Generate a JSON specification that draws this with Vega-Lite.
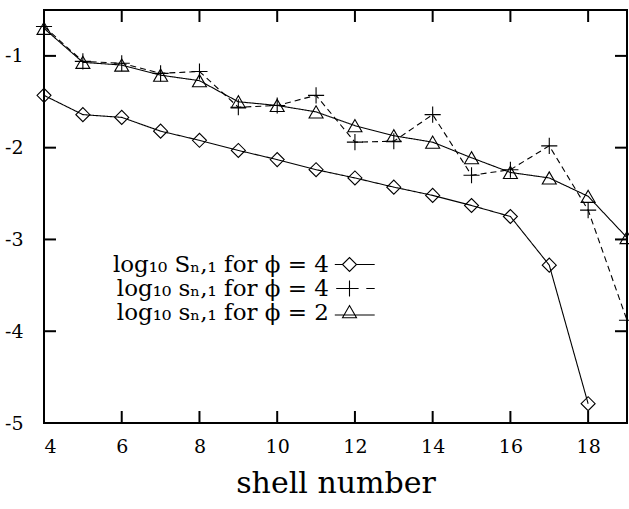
{
  "$schema": "https://vega.github.io/schema/vega-lite/v6.json",
  "width": 583,
  "height": 413,
  "autosize": {"type": "none"},
  "padding": {"left": 44, "top": 10, "right": 2, "bottom": 86},
  "background": "white",
  "config": {
    "view": {"stroke": "black", "strokeWidth": 2}
  },
  "datasets": {
    "pts": [
      {"n": 4, "v": -1.43, "s": "S4"}, {"n": 5, "v": -1.64, "s": "S4"}, {"n": 6, "v": -1.67, "s": "S4"},
      {"n": 7, "v": -1.82, "s": "S4"}, {"n": 8, "v": -1.92, "s": "S4"}, {"n": 9, "v": -2.03, "s": "S4"},
      {"n": 10, "v": -2.13, "s": "S4"}, {"n": 11, "v": -2.24, "s": "S4"}, {"n": 12, "v": -2.33, "s": "S4"},
      {"n": 13, "v": -2.43, "s": "S4"}, {"n": 14, "v": -2.52, "s": "S4"}, {"n": 15, "v": -2.63, "s": "S4"},
      {"n": 16, "v": -2.75, "s": "S4"}, {"n": 17, "v": -3.28, "s": "S4"}, {"n": 18, "v": -4.79, "s": "S4"},
      {"n": 4, "v": -0.68, "s": "s4"}, {"n": 5, "v": -1.06, "s": "s4"}, {"n": 6, "v": -1.08, "s": "s4"},
      {"n": 7, "v": -1.19, "s": "s4"}, {"n": 8, "v": -1.17, "s": "s4"}, {"n": 9, "v": -1.56, "s": "s4"},
      {"n": 10, "v": -1.54, "s": "s4"}, {"n": 11, "v": -1.43, "s": "s4"}, {"n": 12, "v": -1.94, "s": "s4"},
      {"n": 13, "v": -1.93, "s": "s4"}, {"n": 14, "v": -1.64, "s": "s4"}, {"n": 15, "v": -2.30, "s": "s4"},
      {"n": 16, "v": -2.24, "s": "s4"}, {"n": 17, "v": -1.98, "s": "s4"}, {"n": 18, "v": -2.68, "s": "s4"},
      {"n": 19, "v": -3.88, "s": "s4"},
      {"n": 4, "v": -0.70, "s": "s2"}, {"n": 5, "v": -1.07, "s": "s2"}, {"n": 6, "v": -1.10, "s": "s2"},
      {"n": 7, "v": -1.21, "s": "s2"}, {"n": 8, "v": -1.27, "s": "s2"}, {"n": 9, "v": -1.50, "s": "s2"},
      {"n": 10, "v": -1.54, "s": "s2"}, {"n": 11, "v": -1.61, "s": "s2"}, {"n": 12, "v": -1.76, "s": "s2"},
      {"n": 13, "v": -1.87, "s": "s2"}, {"n": 14, "v": -1.94, "s": "s2"}, {"n": 15, "v": -2.11, "s": "s2"},
      {"n": 16, "v": -2.27, "s": "s2"}, {"n": 17, "v": -2.33, "s": "s2"}, {"n": 18, "v": -2.53, "s": "s2"},
      {"n": 19, "v": -2.98, "s": "s2"}
    ],
    "xt": [{"t": 6}, {"t": 8}, {"t": 10}, {"t": 12}, {"t": 14}, {"t": 16}, {"t": 18}],
    "yt": [{"t": -4}, {"t": -3}, {"t": -2}, {"t": -1}]
  },
  "layer": [
    {
      "data": {"name": "pts"},
      "mark": {"type": "line", "color": "black", "strokeWidth": 1.1},
      "encoding": {
        "x": {"field": "n", "type": "quantitative", "scale": {"domain": [4, 19], "nice": false, "zero": false},
              "axis": {"orient": "bottom", "values": [4, 6, 8, 10, 12, 14, 16, 18], "grid": false, "domain": false, "ticks": false,
                       "labelFont": "DejaVu Serif", "labelFontSize": 19, "labelColor": "black", "labelPadding": 14,
                       "title": "shell number", "titleFont": "DejaVu Serif", "titleFontWeight": "normal", "titleColor": "black", "titleFontSize": 30, "titlePadding": 12}},
        "y": {"field": "v", "type": "quantitative", "scale": {"domain": [-5, -0.5], "nice": false, "zero": false},
              "axis": {"orient": "left", "values": [-5, -4, -3, -2, -1], "labelExpr": "'-' + abs(datum.value)", "grid": false, "domain": false, "ticks": false,
                       "labelFont": "DejaVu Serif", "labelFontSize": 19, "labelColor": "black", "labelPadding": 21, "title": null}},
        "strokeDash": {"field": "s", "type": "nominal", "scale": {"domain": ["S4", "s4", "s2"], "range": [[1, 0], [6, 4], [1, 0]]}, "legend": null},
        "detail": {"field": "s"}
      }
    },
    {
      "data": {"name": "pts"},
      "mark": {"type": "point", "filled": false, "stroke": "black", "strokeWidth": 1.1, "size": 196, "opacity": 1},
      "encoding": {
        "x": {"field": "n", "type": "quantitative"},
        "y": {"field": "v", "type": "quantitative"},
        "shape": {"field": "s", "type": "nominal",
                  "scale": {"domain": ["S4", "s4", "s2"], "range": ["diamond", "M-1.15,0L1.15,0M0,-1.15L0,1.15", "triangle-up"]},
                  "legend": null}
      }
    },
    {
      "data": {"name": "pts"},
      "transform": [{"filter": "datum.n > 100"}],
      "mark": {"type": "point", "filled": false, "stroke": "black", "strokeWidth": 1.1, "opacity": 1},
      "encoding": {
        "x": {"field": "n", "type": "quantitative"},
        "y": {"field": "v", "type": "quantitative"},
        "shape": {"field": "s", "type": "nominal",
                  "scale": {"domain": ["S4", "s4", "s2"],
                            "range": ["M-2.1,0L-1,0M1,0L3.6,0M-1,0L0,-1L1,0L0,1Z", "M-1.9,0L1.3,0M0,-1.15L0,1.15M2.4,0L3.6,0", "M-2.1,0.35L3.6,0.35M-1,0.75L0,-1L1,0.75Z"]},
                  "legend": {"orient": "none", "legendX": 294, "legendY": 243, "padding": 0, "title": null,
                             "labelAlign": "right", "labelOffset": -32, "labelLimit": 400, "labelFont": "DejaVu Serif", "labelFontSize": 23, "labelColor": "black",
                             "rowPadding": -1, "symbolSize": 196, "symbolStrokeWidth": 1.1, "symbolStrokeColor": "black", "symbolFillColor": "transparent", "symbolOpacity": 1,
                             "labelExpr": "datum.value === 'S4' ? 'log₁₀ Sₙ,₁ for ϕ = 4' : datum.value === 's4' ? 'log₁₀ sₙ,₁ for ϕ = 4' : 'log₁₀ sₙ,₁ for ϕ = 2'"}}
      }
    },
    {
      "data": {"name": "xt"},
      "mark": {"type": "point", "shape": "M0,0L0,-2", "filled": false, "stroke": "black", "strokeWidth": 2, "size": 144, "opacity": 1},
      "encoding": {"x": {"field": "t", "type": "quantitative"}, "y": {"datum": -5, "type": "quantitative"}}
    },
    {
      "data": {"name": "xt"},
      "mark": {"type": "point", "shape": "M0,0L0,2", "filled": false, "stroke": "black", "strokeWidth": 2, "size": 144, "opacity": 1},
      "encoding": {"x": {"field": "t", "type": "quantitative"}, "y": {"datum": -0.5, "type": "quantitative"}}
    },
    {
      "data": {"name": "yt"},
      "mark": {"type": "point", "shape": "M0,0L2,0", "filled": false, "stroke": "black", "strokeWidth": 2, "size": 144, "opacity": 1},
      "encoding": {"y": {"field": "t", "type": "quantitative"}, "x": {"datum": 4, "type": "quantitative"}}
    },
    {
      "data": {"name": "yt"},
      "mark": {"type": "point", "shape": "M0,0L-2,0", "filled": false, "stroke": "black", "strokeWidth": 2, "size": 144, "opacity": 1},
      "encoding": {"y": {"field": "t", "type": "quantitative"}, "x": {"datum": 19, "type": "quantitative"}}
    }
  ],
  "resolve": {"scale": {"shape": "independent"}}
}
